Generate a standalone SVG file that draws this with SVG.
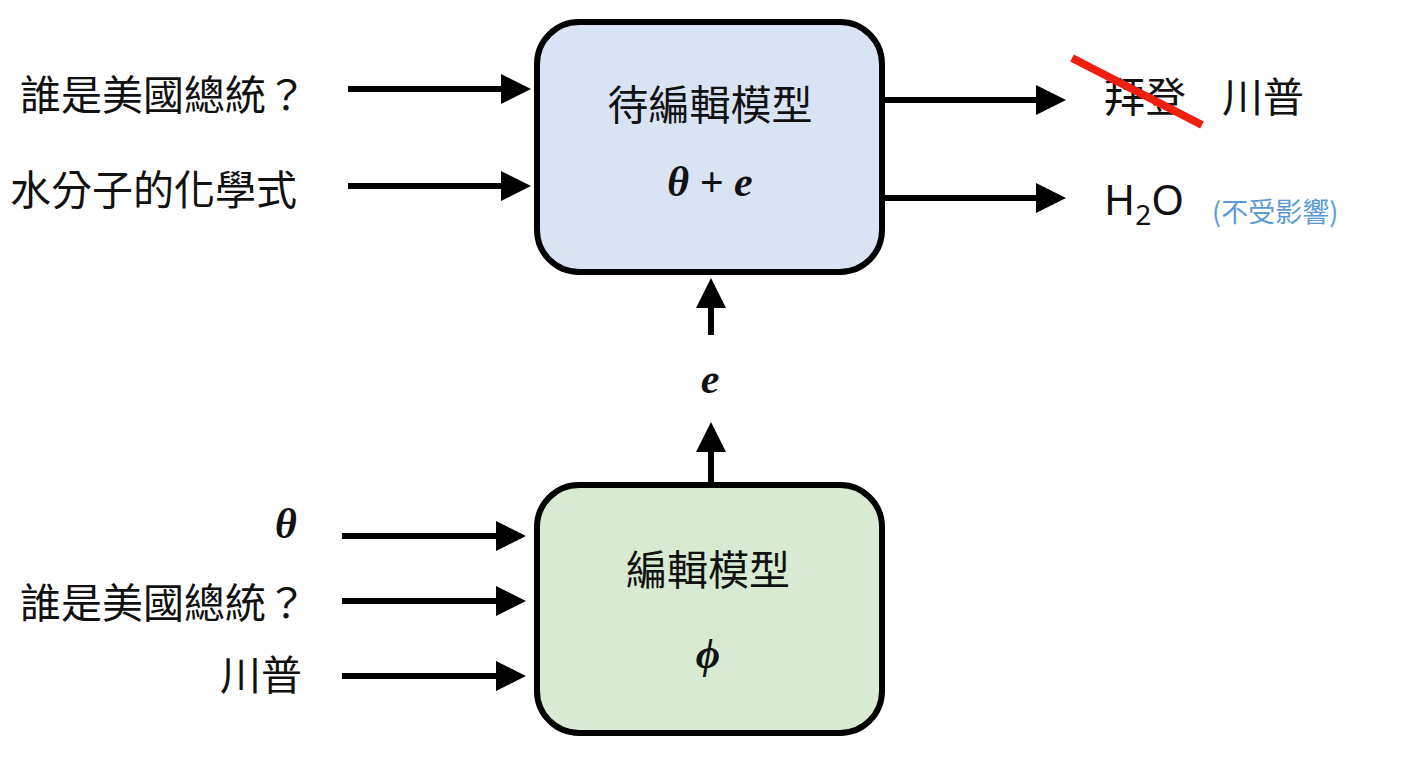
<svg xmlns="http://www.w3.org/2000/svg" width="1404" height="760" viewBox="0 0 1404 760">
<style>
.t{font-family:"Noto Sans CJK TC","Noto Sans",sans-serif;font-size:41px;fill:#111}
.m{font-family:"Liberation Serif",serif;font-style:italic;font-weight:bold;font-size:42px;fill:#111}
.l{stroke:#000;stroke-width:6;fill:none;marker-end:url(#a)}
</style>
<defs><marker id="a" markerWidth="5" markerHeight="5" refX="4" refY="2.5" orient="auto" markerUnits="strokeWidth"><path d="M0,0L5,2.5L0,5z" fill="#000"/></marker></defs>
<rect width="1404" height="760" fill="#fff"/>
<g id="top"><rect x="537" y="22" width="345" height="250" rx="42" fill="#dae3f3" stroke="#000" stroke-width="6"/>
<text class="t" x="710" y="120" text-anchor="middle">待編輯模型</text>
<text class="m" x="710" y="196" text-anchor="middle">θ + e</text></g>
<g id="bottom"><rect x="537" y="485" width="345" height="248" rx="42" fill="#d9ead3" stroke="#000" stroke-width="6"/>
<text class="t" x="708" y="585" text-anchor="middle">編輯模型</text>
<text class="m" x="708" y="668" text-anchor="middle">ϕ</text></g>
<g id="labels">
<text class="t" x="20" y="110">誰是美國總統？</text>
<text class="t" x="10" y="205">水分子的化學式</text>
<text class="m" x="286" y="538" text-anchor="middle">θ</text>
<text class="t" x="20" y="618">誰是美國總統？</text>
<text class="t" x="220" y="690">川普</text>
<text class="m" x="710" y="393" text-anchor="middle">e</text>
<text class="t" x="1104" y="112">拜登</text>
<text class="t" x="1222" y="112">川普</text>
<text class="t" x="1104" y="215" style="font-family:'Noto Sans',sans-serif;font-size:42px">H<tspan font-size="28" dy="10">2</tspan><tspan dy="-10">O</tspan></text>
<text class="t" x="1212" y="222" style="font-size:27px;fill:#5b9bd5">(不受影響)</text>
</g>
<line x1="1072" y1="58" x2="1202" y2="125" stroke="#f02010" stroke-width="8"/>
<g id="connectors">
<line class="l" x1="348" y1="89" x2="525" y2="89"/>
<line class="l" x1="348" y1="186" x2="525" y2="186"/>
<line class="l" x1="884" y1="100" x2="1060" y2="100"/>
<line class="l" x1="884" y1="198" x2="1060" y2="198"/>
<line class="l" x1="711" y1="335" x2="711" y2="284"/>
<line class="l" x1="711" y1="484" x2="711" y2="428"/>
<line class="l" x1="342" y1="536" x2="520" y2="536"/>
<line class="l" x1="342" y1="601" x2="520" y2="601"/>
<line class="l" x1="342" y1="676" x2="520" y2="676"/>
</g>
</svg>
